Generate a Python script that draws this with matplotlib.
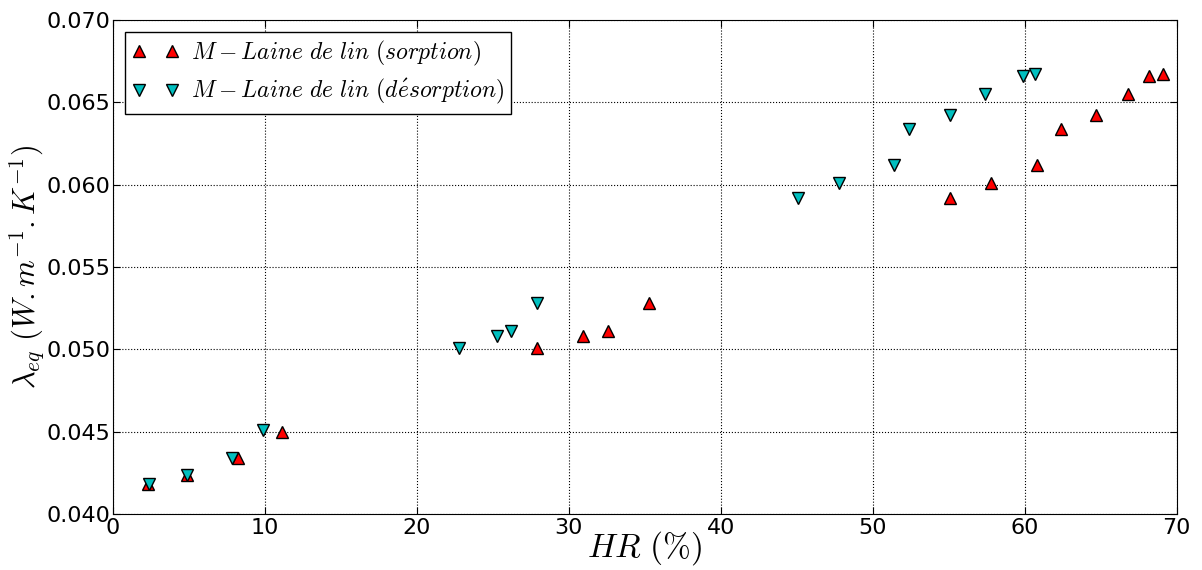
import numpy as np
import matplotlib
matplotlib.use('Agg')
import matplotlib.pyplot as plt

plt.rcParams['mathtext.fontset'] = 'cm'

# sorption (red, up triangles)
hr_sorp = [2.3, 4.9, 8.2, 11.1, 27.9, 30.9, 32.6, 35.3, 55.1, 57.8, 60.8, 62.4, 64.7, 66.8, 68.2, 69.1]
lam_sorp = [0.0418, 0.0424, 0.0434, 0.0450, 0.0501, 0.0508, 0.0511, 0.0528,
            0.0592, 0.0601, 0.0612, 0.0634, 0.0642, 0.0655, 0.0666, 0.0667]

# desorption (cyan, down triangles)
hr_desorp = [2.4, 4.9, 7.8, 9.9, 22.8, 25.3, 26.2, 27.9, 45.1, 47.8, 51.4, 52.4, 55.1, 57.4, 59.9, 60.7]
lam_desorp = [0.0418, 0.0424, 0.0434, 0.0451, 0.0501, 0.0508, 0.0511, 0.0528,
              0.0592, 0.0601, 0.0612, 0.0634, 0.0642, 0.0655, 0.0666, 0.0667]

fig = plt.figure(figsize=(12.02, 5.70), dpi=100)
ax = fig.add_axes([0.094, 0.098, 0.885, 0.867])

ax.plot(hr_sorp, lam_sorp, '^', color='#ff0000', markeredgecolor='black', markersize=9,
        markeredgewidth=1.0, label=r'$M-Laine\ de\ lin\ (sorption)$')
ax.plot(hr_desorp, lam_desorp, 'v', color='#00bfbf', markeredgecolor='black', markersize=9,
        markeredgewidth=1.0, label=r'$M-Laine\ de\ lin\ (d\acute{e}sorption)$')

ax.set_xlim(0, 70)
ax.set_ylim(0.040, 0.070)
ax.set_xticks(np.arange(0, 71, 10))
ax.set_yticks(np.arange(0.040, 0.0701, 0.005))
ax.set_yticklabels(['%.3f' % v for v in np.arange(0.040, 0.0701, 0.005)])
ax.tick_params(direction='in', top=True, right=True, labelsize=16, length=5)
ax.tick_params(axis='y', pad=2)
ax.tick_params(axis='x', pad=3)
ax.grid(True, color='black', linestyle=':', linewidth=0.8)

ax.set_xlabel(r'$HR\ (\%)$', fontsize=24)
ax.xaxis.set_label_coords(0.5, -0.03)
ax.set_ylabel(r'$\lambda_{eq}\ (W.m^{-1}.K^{-1})$', fontsize=22)
ax.yaxis.set_label_coords(-0.062, 0.5)

leg = ax.legend(loc='upper left', numpoints=2, fontsize=17, fancybox=False,
                framealpha=1, edgecolor='black', borderpad=0.3, handletextpad=0.5,
                labelspacing=0.4)
leg.get_frame().set_linewidth(1.0)

fig.savefig('out.png', dpi=100)
